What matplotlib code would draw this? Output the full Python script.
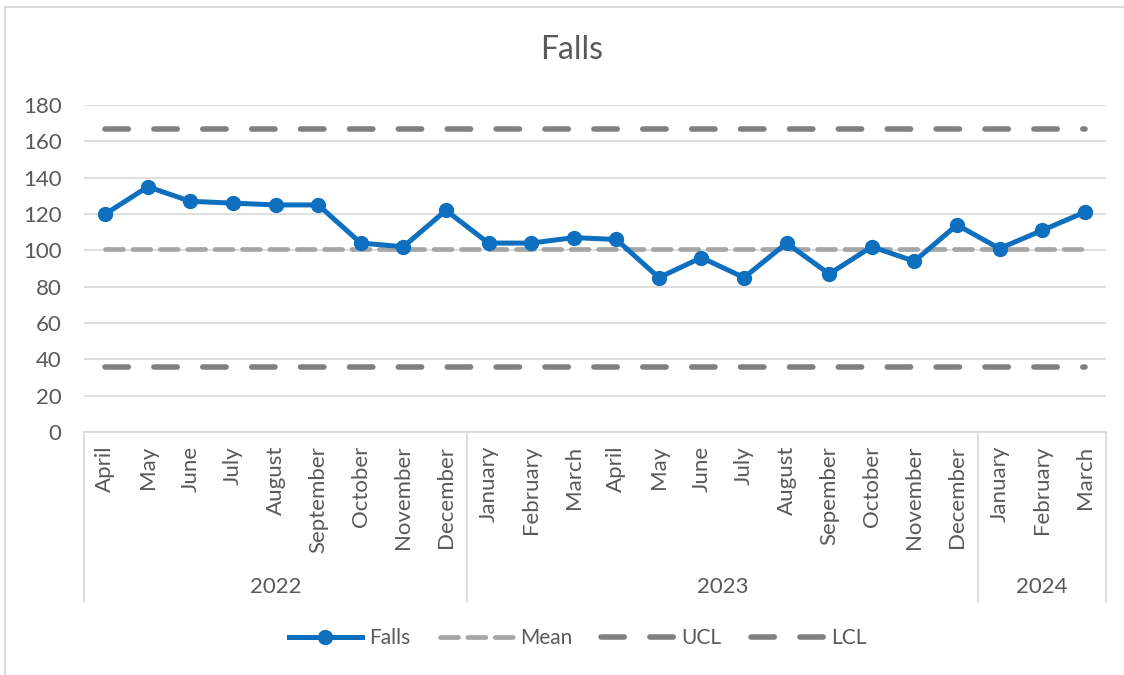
import matplotlib
matplotlib.use("Agg")
import matplotlib.pyplot as plt
import numpy as np
from matplotlib.lines import Line2D

plt.rcParams['font.family'] = ['Lato', 'DejaVu Sans']

# monthly falls, April 2022 - March 2024
months = ['April', 'May', 'June', 'July', 'August', 'September', 'October',
          'November', 'December',
          'January', 'February', 'March', 'April', 'May', 'June', 'July',
          'August', 'Sepember', 'October', 'November', 'December',
          'January', 'February', 'March']
years = ['2022', '2023', '2024']
year_counts = [9, 12, 3]
falls = [120, 135, 127, 126, 125, 125, 104, 102, 122,
         104, 104, 107, 106, 85, 96, 85, 104, 87, 102, 94, 114,
         101, 111, 121]
mean = 100.5
ucl = 167
lcl = 36

grey_txt = '#595959'
x = np.arange(len(months))

fig = plt.figure(figsize=(11.24, 6.75), dpi=100)
ax = fig.add_axes([0.0747, 0.36, 0.9093, 0.4844])

# control lines
ax.plot(x, [ucl] * len(x), color='#808080', lw=4, linestyle=(0, (4.2, 4.6)),
        dash_capstyle='round', label='UCL', zorder=2)
ax.plot(x, [lcl] * len(x), color='#808080', lw=4, linestyle=(0, (4.2, 4.6)),
        dash_capstyle='round', label='LCL', zorder=2)
ax.plot(x, [mean] * len(x), color='#A6A6A6', lw=3.4, linestyle=(0, (3.8, 2.0)),
        dash_capstyle='round', label='Mean', zorder=2)
ax.plot(x, falls, color='#0F6FBF', lw=3.6, marker='o', markersize=10,
        label='Falls', zorder=3)

ax.set_xlim(-0.5, len(months) - 0.5)
ax.set_ylim(0, 180)
ax.set_yticks(range(0, 181, 20))
ax.yaxis.grid(True, color='#D9D9D9', lw=1.2)
ax.set_axisbelow(True)
for s in ['top', 'right', 'left']:
    ax.spines[s].set_visible(False)
ax.spines['bottom'].set_color('#D9D9D9')
ax.spines['bottom'].set_linewidth(1.2)
ax.tick_params(axis='y', length=0, pad=16, labelsize=16, labelcolor=grey_txt)
ax.set_xticks(x)
ax.set_xticklabels(months, rotation=90)
ax.tick_params(axis='x', length=0, pad=10, labelsize=16, labelcolor=grey_txt)

# year grouping on the category axis
trans = ax.get_xaxis_transform()
edges = np.concatenate([[0], np.cumsum(year_counts)]) - 0.5
for e in edges:
    ax.plot([e, e], [0, -0.52], color='#D9D9D9', lw=1.2, transform=trans,
            clip_on=False)
for i, yr in enumerate(years):
    ax.text((edges[i] + edges[i + 1]) / 2, -0.474, yr, transform=trans,
            ha='center', va='center', fontsize=16, color=grey_txt)

fig.text(0.509, 0.926, 'Falls', ha='center', va='center', fontsize=23,
         color=grey_txt)

handles = [
    Line2D([], [], color='#0F6FBF', lw=3.6, marker='o', markersize=10),
    Line2D([], [], color='#A6A6A6', lw=3.4, linestyle=(0, (3.8, 2.0)), dash_capstyle='round'),
    Line2D([], [], color='#808080', lw=4, linestyle=(0, (4.2, 4.6)), dash_capstyle='round'),
    Line2D([], [], color='#808080', lw=4, linestyle=(0, (4.2, 4.6)), dash_capstyle='round'),
]
fig.legend(handles, ['Falls', 'Mean', 'UCL', 'LCL'], loc='center',
           bbox_to_anchor=(0.514, 0.055), ncol=4, frameon=False, fontsize=15,
           handlelength=3.5, columnspacing=1.4, handletextpad=0.35,
           labelcolor=grey_txt)

# chart border (left and top edges visible)
fig.add_artist(Line2D([5 / 1124, 5 / 1124], [0, 1 - 7 / 675], color='#D9D9D9',
                      lw=1.5, transform=fig.transFigure))
fig.add_artist(Line2D([5 / 1124, 1], [1 - 7 / 675, 1 - 7 / 675], color='#D9D9D9',
                      lw=1.5, transform=fig.transFigure))

fig.savefig('out.png', dpi=100)
